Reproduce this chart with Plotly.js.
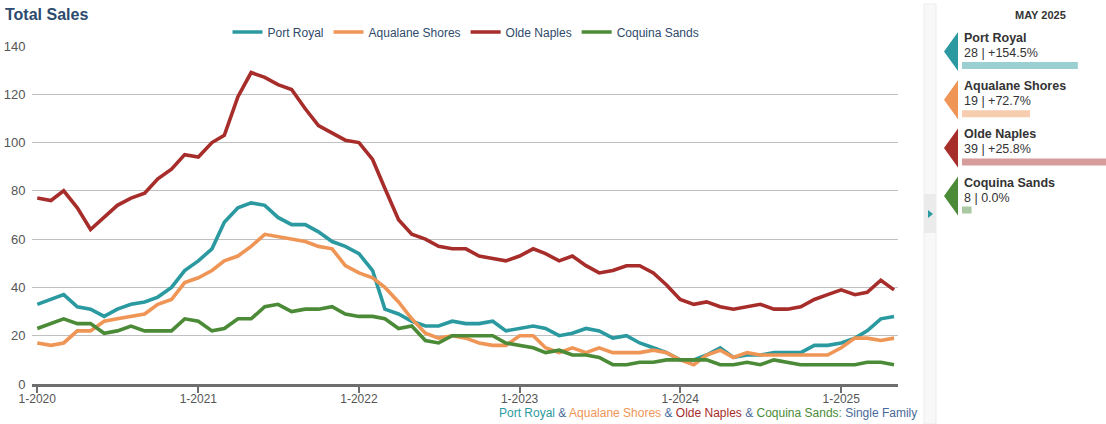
<!DOCTYPE html>
<html>
<head>
<meta charset="utf-8">
<script src="https://cdn.plot.ly/plotly-3.0.1.min.js"></script>
<style>
  html, body { margin: 0; padding: 0; background: #ffffff; }
  #chart { width: 1106px; height: 424px; }
</style>
</head>
<body>
<div id="chart"></div>
<script>
// Monthly closed sales, Jan 2020 – May 2025
const firstMonth = [2020, 1];
const lastMonth = [2025, 5];

const seriesNames = ['Port Royal', 'Aqualane Shores', 'Olde Naples', 'Coquina Sands'];
const seriesColors = ['#2b9aa0', '#ef9556', '#a72d2b', '#4b8a37'];

const portRoyal = [
  33, 35, 37, 32, 31, 28, 31, 33, 34, 36, 40, 47,
  51, 56, 67, 73, 75, 74, 69, 66, 66, 63, 59, 57,
  54, 47, 31, 29, 26, 24, 24, 26, 25, 25, 26, 22,
  23, 24, 23, 20, 21, 23, 22, 19, 20, 17, 15, 13,
  10, 10, 12, 15, 11, 12, 12, 13, 13, 13, 16, 16,
  17, 19, 22, 27, 28
];
const aqualaneShores = [
  17, 16, 17, 22, 22, 26, 27, 28, 29, 33, 35, 42,
  44, 47, 51, 53, 57, 62, 61, 60, 59, 57, 56, 49,
  46, 44, 40, 34, 27, 21, 19, 20, 19, 17, 16, 16,
  20, 20, 15, 13, 15, 13, 15, 13, 13, 13, 14, 13,
  10, 8, 12, 14, 11, 13, 12, 12, 12, 12, 12, 12,
  15, 19, 19, 18, 19
];
const oldeNaples = [
  77, 76, 80, 73, 64, 69, 74, 77, 79, 85, 89, 95,
  94, 100, 103, 119, 129, 127, 124, 122, 114, 107, 104, 101,
  100, 93, 81, 68, 62, 60, 57, 56, 56, 53, 52, 51,
  53, 56, 54, 51, 53, 49, 46, 47, 49, 49, 46, 41,
  35, 33, 34, 32, 31, 32, 33, 31, 31, 32, 35, 37,
  39, 37, 38, 43, 39
];
const coquinaSands = [
  23, 25, 27, 25, 25, 21, 22, 24, 22, 22, 22, 27,
  26, 22, 23, 27, 27, 32, 33, 30, 31, 31, 32, 29,
  28, 28, 27, 23, 24, 18, 17, 20, 20, 20, 20, 17,
  16, 15, 13, 14, 12, 12, 11, 8, 8, 9, 9, 10,
  10, 10, 10, 8, 8, 9, 8, 10, 9, 8, 8, 8,
  8, 8, 9, 9, 8
];

const yTickValues = [0, 20, 40, 60, 80, 100, 120, 140];
const xTickDates = ['2020-01-01', '2021-01-01', '2022-01-01', '2023-01-01', '2024-01-01', '2025-01-01'];
const xTickLabels = ['1-2020', '1-2021', '1-2022', '1-2023', '1-2024', '1-2025'];

const chartTitle = 'Total Sales';
const panelTitle = 'MAY 2025';
const propertyType = 'Single Family';

// ---------------------------------------------------------------
const W = 1106, H = 424;
const px = x => x / W;          // pixel -> paper (horizontal)
const py = y => 1 - y / H;      // pixel -> paper (vertical)
const FONT = 'Arial, "Liberation Sans", sans-serif';

function monthDates() {
  const out = [];
  let [y, m] = firstMonth;
  while (y < lastMonth[0] || (y === lastMonth[0] && m <= lastMonth[1])) {
    out.push(y + '-' + String(m).padStart(2, '0') + '-01');
    m++; if (m > 12) { m = 1; y++; }
  }
  return out;
}
const dates = monthDates();
const allSeries = [portRoyal, aqualaneShores, oldeNaples, coquinaSands];

function fade(hex, a) {
  const r = parseInt(hex.slice(1, 3), 16), g = parseInt(hex.slice(3, 5), 16), b = parseInt(hex.slice(5, 7), 16);
  const mix = c => Math.round(255 - a * (255 - c));
  return 'rgb(' + mix(r) + ',' + mix(g) + ',' + mix(b) + ')';
}

// line traces
const traces = allSeries.map((vals, i) => ({
  type: 'scatter', mode: 'lines',
  name: seriesNames[i],
  x: dates, y: vals,
  line: { color: seriesColors[i], width: 3.6 },
  xaxis: 'x', yaxis: 'y',
  hoverinfo: 'x+y+name'
}));

// side panel: latest month and year-over-year change
const latest = allSeries.map(v => v[v.length - 1]);
const yearAgo = allSeries.map(v => v[v.length - 13]);
const rows = [0, 1, 2, 3];

traces.push({
  type: 'bar', orientation: 'h',
  x: latest, y: rows,
  width: 0.145,
  marker: { color: seriesColors.map(c => fade(c, 0.47)) },
  xaxis: 'x2', yaxis: 'y2',
  showlegend: false, hoverinfo: 'skip'
});

const rowCenter = i => 65.5 + 48.2 * i;   // bar centre in pixels

const annotations = [
  {
    xref: 'paper', yref: 'paper', x: px(1040), y: py(15),
    xanchor: 'center', yanchor: 'middle', showarrow: false,
    text: '<b>' + panelTitle + '</b>',
    font: { family: FONT, size: 11, color: '#333333' }
  }
];
const shapes = [];

rows.forEach(i => {
  const pct = (latest[i] - yearAgo[i]) / yearAgo[i] * 100;
  const pctText = (pct > 0 ? '+' : '') + pct.toFixed(1) + '%';
  annotations.push({
    xref: 'x2 domain', yref: 'y2', x: 0, y: i, yshift: 27.5,
    xanchor: 'left', yanchor: 'middle', showarrow: false,
    text: '<b>' + seriesNames[i] + '</b>',
    font: { family: FONT, size: 12.5, color: '#333333' }
  });
  annotations.push({
    xref: 'x2 domain', yref: 'y2', x: 0, y: i, yshift: 12.5,
    xanchor: 'left', yanchor: 'middle', showarrow: false,
    text: latest[i] + ' | ' + pctText,
    font: { family: FONT, size: 12.5, color: '#333333' }
  });
  const c = rowCenter(i) - 14;
  shapes.push({
    type: 'path', xref: 'paper', yref: 'paper',
    path: 'M ' + px(944) + ' ' + py(c) + ' L ' + px(958) + ' ' + py(c - 19.5) +
          ' L ' + px(958) + ' ' + py(c + 19.5) + ' Z',
    fillcolor: seriesColors[i], line: { width: 0 }
  });
});

// collapsible strip between chart and panel
shapes.unshift(
  { type: 'rect', xref: 'paper', yref: 'paper', x0: px(924), x1: px(936), y0: py(4), y1: py(424),
    fillcolor: '#f8f8f8', line: { color: '#ececec', width: 1 }, layer: 'below' },
  { type: 'rect', xref: 'paper', yref: 'paper', x0: px(924), x1: px(936), y0: py(194), y1: py(233),
    fillcolor: '#ebebeb', line: { width: 0 }, layer: 'below' },
  { type: 'path', xref: 'paper', yref: 'paper',
    path: 'M ' + px(928) + ' ' + py(210) + ' L ' + px(933) + ' ' + py(214) + ' L ' + px(928) + ' ' + py(218) + ' Z',
    fillcolor: seriesColors[0], line: { width: 0 } }
);

// footer line naming the areas
const slate = '#4a6a9a';
const footer = seriesNames.map((n, i) => '<span style="color:' + seriesColors[i] + '">' + n + (i === 3 ? ':' : '') + '</span>')
  .join(' & ') + ' ' + propertyType;
annotations.push({
  xref: 'paper', yref: 'paper', x: px(919), y: py(413),
  xanchor: 'right', yanchor: 'middle', showarrow: false,
  text: footer, font: { family: FONT, size: 12, color: slate }
});

const layout = {
  width: W, height: H,
  margin: { l: 0, r: 0, t: 0, b: 0 },
  paper_bgcolor: '#ffffff', plot_bgcolor: '#ffffff',
  font: { family: FONT, color: '#555555' },
  title: {
    text: '<b>' + chartTitle + '</b>',
    xref: 'container', yref: 'container', x: px(5), y: py(14),
    xanchor: 'left', yanchor: 'middle',
    font: { family: FONT, size: 16, color: '#2c4a6e' }
  },
  showlegend: true,
  legend: {
    orientation: 'h', x: px(466), y: py(32), xanchor: 'center', yanchor: 'middle',
    font: { family: FONT, size: 12, color: '#2f4a6b' },
    bgcolor: 'rgba(0,0,0,0)', itemclick: false, itemdoubleclick: false
  },
  xaxis: {
    type: 'date', domain: [px(32), px(898)],
    range: ['2019-12-20', '2025-05-10'],
    tickmode: 'array', tickvals: xTickDates, ticktext: xTickLabels,
    showgrid: false, zeroline: false,
    showline: true, linecolor: '#6e6e6e', linewidth: 2.5,
    ticks: 'outside', ticklen: 6, tickwidth: 2, tickcolor: '#6e6e6e',
    ticklabelstandoff: -4,
    tickfont: { family: FONT, size: 12, color: '#555555' },
    fixedrange: true
  },
  yaxis: {
    domain: [py(384), py(46)],
    range: [0, 140],
    tickmode: 'array', tickvals: yTickValues,
    showgrid: true, gridcolor: '#c0c0c0', gridwidth: 1,
    zeroline: false, showline: false,
    ticks: 'outside', ticklen: 3, tickcolor: 'rgba(0,0,0,0)',
    tickfont: { family: FONT, size: 13, color: '#555555' },
    fixedrange: true
  },
  xaxis2: {
    domain: [px(962), 1], range: [6.2, 33.3],
    visible: false, fixedrange: true, anchor: 'y2'
  },
  yaxis2: {
    domain: [py(rowCenter(3) + 24.1), py(rowCenter(0) - 24.1)],
    range: [3.5, -0.5],
    visible: false, fixedrange: true, anchor: 'x2'
  },
  shapes: shapes,
  annotations: annotations
};

Plotly.newPlot('chart', traces, layout, { displayModeBar: false, responsive: false });
</script>
</body>
</html>
